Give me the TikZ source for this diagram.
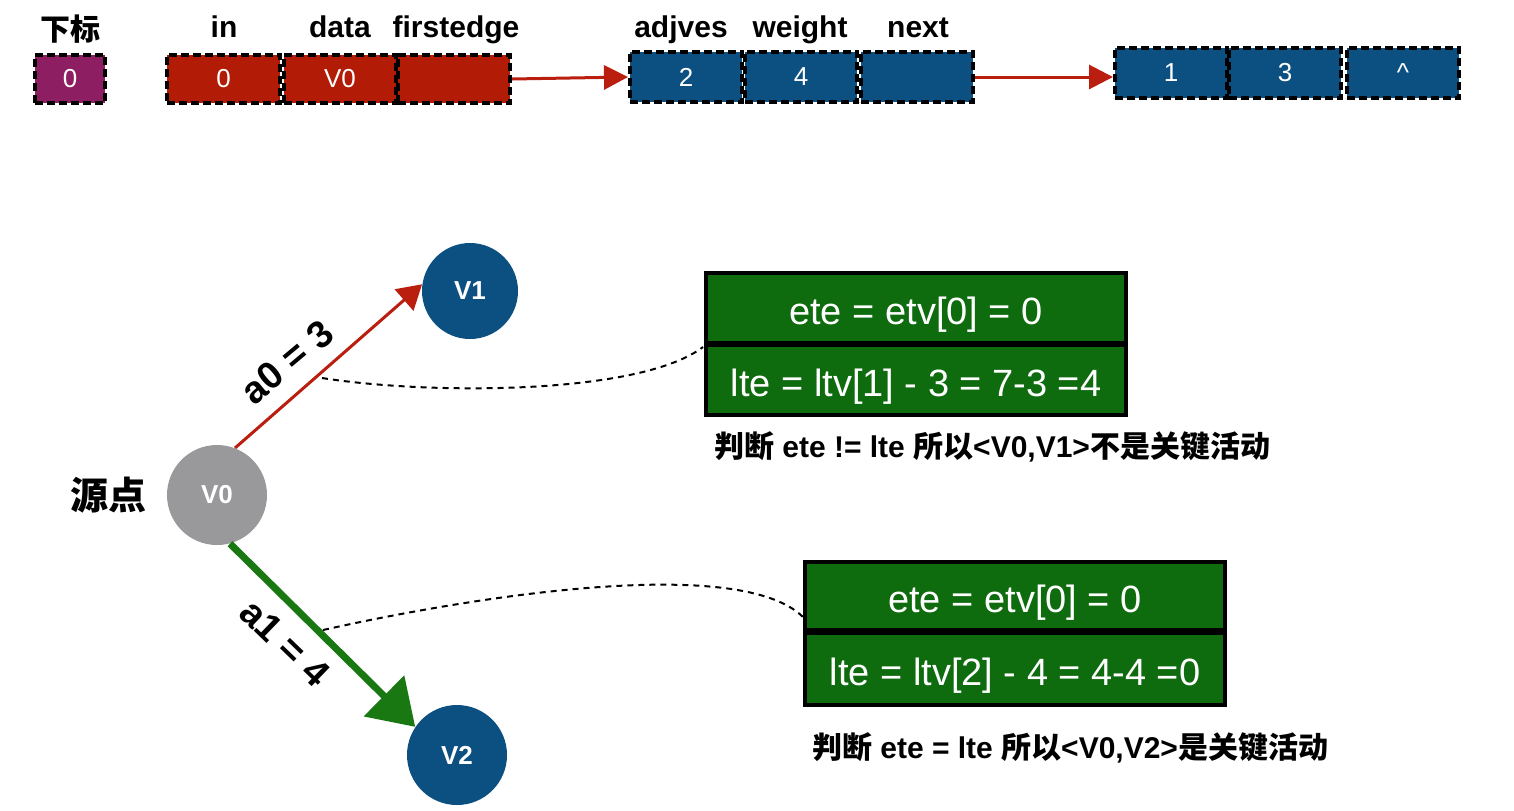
\documentclass[tikz,border=0pt]{standalone}
\usepackage{fontspec}
\setmainfont{Liberation Sans}
\newfontfamily\cjk{Noto Sans CJK SC}
\usetikzlibrary{arrows.meta}
\definecolor{purp}{RGB}{142,30,98}
\definecolor{redbox}{RGB}{178,27,5}
\definecolor{bluebox}{RGB}{11,80,128}
\definecolor{greenbox}{RGB}{14,107,14}
\definecolor{greenline}{RGB}{26,120,18}
\definecolor{grayv}{RGB}{153,153,155}
\definecolor{redline}{RGB}{185,30,15}
\tikzset{
  cell/.style={draw=black, line width=2pt, dash pattern=on 4pt off 2pt, text=white, inner sep=0pt, minimum width=56pt, font=\fontsize{13}{15}\selectfont},
  fieldlbl/.style={anchor=base, font=\bfseries\fontsize{15}{18}\selectfont},
  vert/.style={circle, fill=bluebox, text=white, inner sep=0pt, minimum size=48pt, font=\bfseries\fontsize{13}{15}\selectfont},
  calc/.style={draw=black, fill=greenbox, line width=2pt, text=white, inner sep=0pt, minimum width=210pt, text height=17pt, text depth=1pt, font=\fontsize{19}{22}\selectfont},
  redarrow/.style={draw=redline, line width=1.5pt, -{Triangle[length=12pt,width=14pt]}},
  linkarrow/.style={draw=redline, line width=1.5pt, -{Triangle[length=12pt,width=12pt]}},
  dashlink/.style={draw=black, line width=1pt, dash pattern=on 3pt off 2.5pt},
  note/.style={font=\bfseries\fontsize{15}{18}\selectfont},
}
\begin{document}
\begin{tikzpicture}[x=0.5pt,y=-0.5pt]
\useasboundingbox[fill=white] (0,0) rectangle (1514,810);

% top row: index
\node[fieldlbl] (lidx) at (70,40) {\cjk 下标};
\node[cell, fill=purp, minimum width=35pt, minimum height=24pt] (p0) at (70,79) {0};

% vertex record
\node[cell, fill=redbox, minimum width=56.5pt, minimum height=24pt] (r1) at (223.5,79) {0};
\node[cell, fill=redbox, minimum height=24pt] (r2) at (340,79) {V0};
\node[cell, fill=redbox, minimum height=24pt] (r3) at (454,79) {};
\node[fieldlbl] (lin) at (224,37) {in};
\node[fieldlbl] (ldata) at (340,37) {data};
\node[fieldlbl] (lfirst) at (456,37) {firstedge};

% first edge record
\node[cell, fill=bluebox, minimum height=25pt] (b1) at (686,77) {2};
\node[cell, fill=bluebox, minimum height=25pt] (b2) at (801,77) {4};
\node[cell, fill=bluebox, minimum height=25pt] (b3) at (917,77) {};
\node[fieldlbl] (ladj) at (681,37) {adjves};
\node[fieldlbl] (lw) at (800,37) {weight};
\node[fieldlbl] (lnext) at (918,37) {next};

% second edge record
\node[cell, fill=bluebox, minimum height=25pt] (c1) at (1171,73) {1};
\node[cell, fill=bluebox, minimum height=25pt] (c2) at (1285,73) {3};
\node[cell, fill=bluebox, minimum height=25pt] (c3) at (1403,73) {\textasciicircum};

\draw[linkarrow] (r3.east) -- (b1.west);
\draw[linkarrow] (b3.east) -- (b3.east -| c1.west);

% graph
\node[vert] (V1) at (470,291) {V1};
\node[vert, fill=grayv, minimum size=50pt] (V0) at (217,495) {V0};
\node[vert, minimum size=50pt] (V2) at (457,755) {V2};
\node[font=\cjk\bfseries\fontsize{19}{22}\selectfont] (src) at (108,495) {源点};

\draw[redarrow] (V0.69) -- (V1.172);
\draw[draw=greenline, line width=3.5pt, -{Triangle[length=22pt,width=28pt]}] (V0.-75) -- (V2.146);
\node[rotate=40, font=\bfseries\fontsize{19}{22}\selectfont] (la0) at (287,362) {a0 = 3};
\node[rotate=-44, font=\bfseries\fontsize{19}{22}\selectfont] (la1) at (285,643) {a1 = 4};

% calculation boxes
\node[calc, minimum height=35pt] (g1t) at (916,308) {ete = etv[0] = 0};
\node[calc, minimum height=35pt] (g1b) at (916,380) {lte = ltv[1] - 3 = 7-3 =4};
\node[calc, minimum height=34pt] (g2t) at (1015,596) {ete = etv[0] = 0};
\node[calc, minimum height=36pt] (g2b) at (1015,669) {lte = ltv[2] - 4 = 4-4 =0};

\node[note] (n1) at (992,447) {{\cjk 判断} ete != lte {\cjk 所以}<V0,V1>{\cjk 不是关键活动}};
\node[note] (n2) at (1070,748) {{\cjk 判断} ete = lte {\cjk 所以}<V0,V2>{\cjk 是关键活动}};

% dashed connectors
\coordinate (d1s) at (322,378);
\coordinate (d1e) at (703,347);
\coordinate (d2s) at (323,630);
\coordinate (d2e) at (803,617);
\draw[dashlink] (d1s) .. controls (430,395) and (640,395) .. (d1e);
\draw[dashlink] (d2s) .. controls (480,595) and (740,555) .. (d2e);
\end{tikzpicture}
\end{document}
